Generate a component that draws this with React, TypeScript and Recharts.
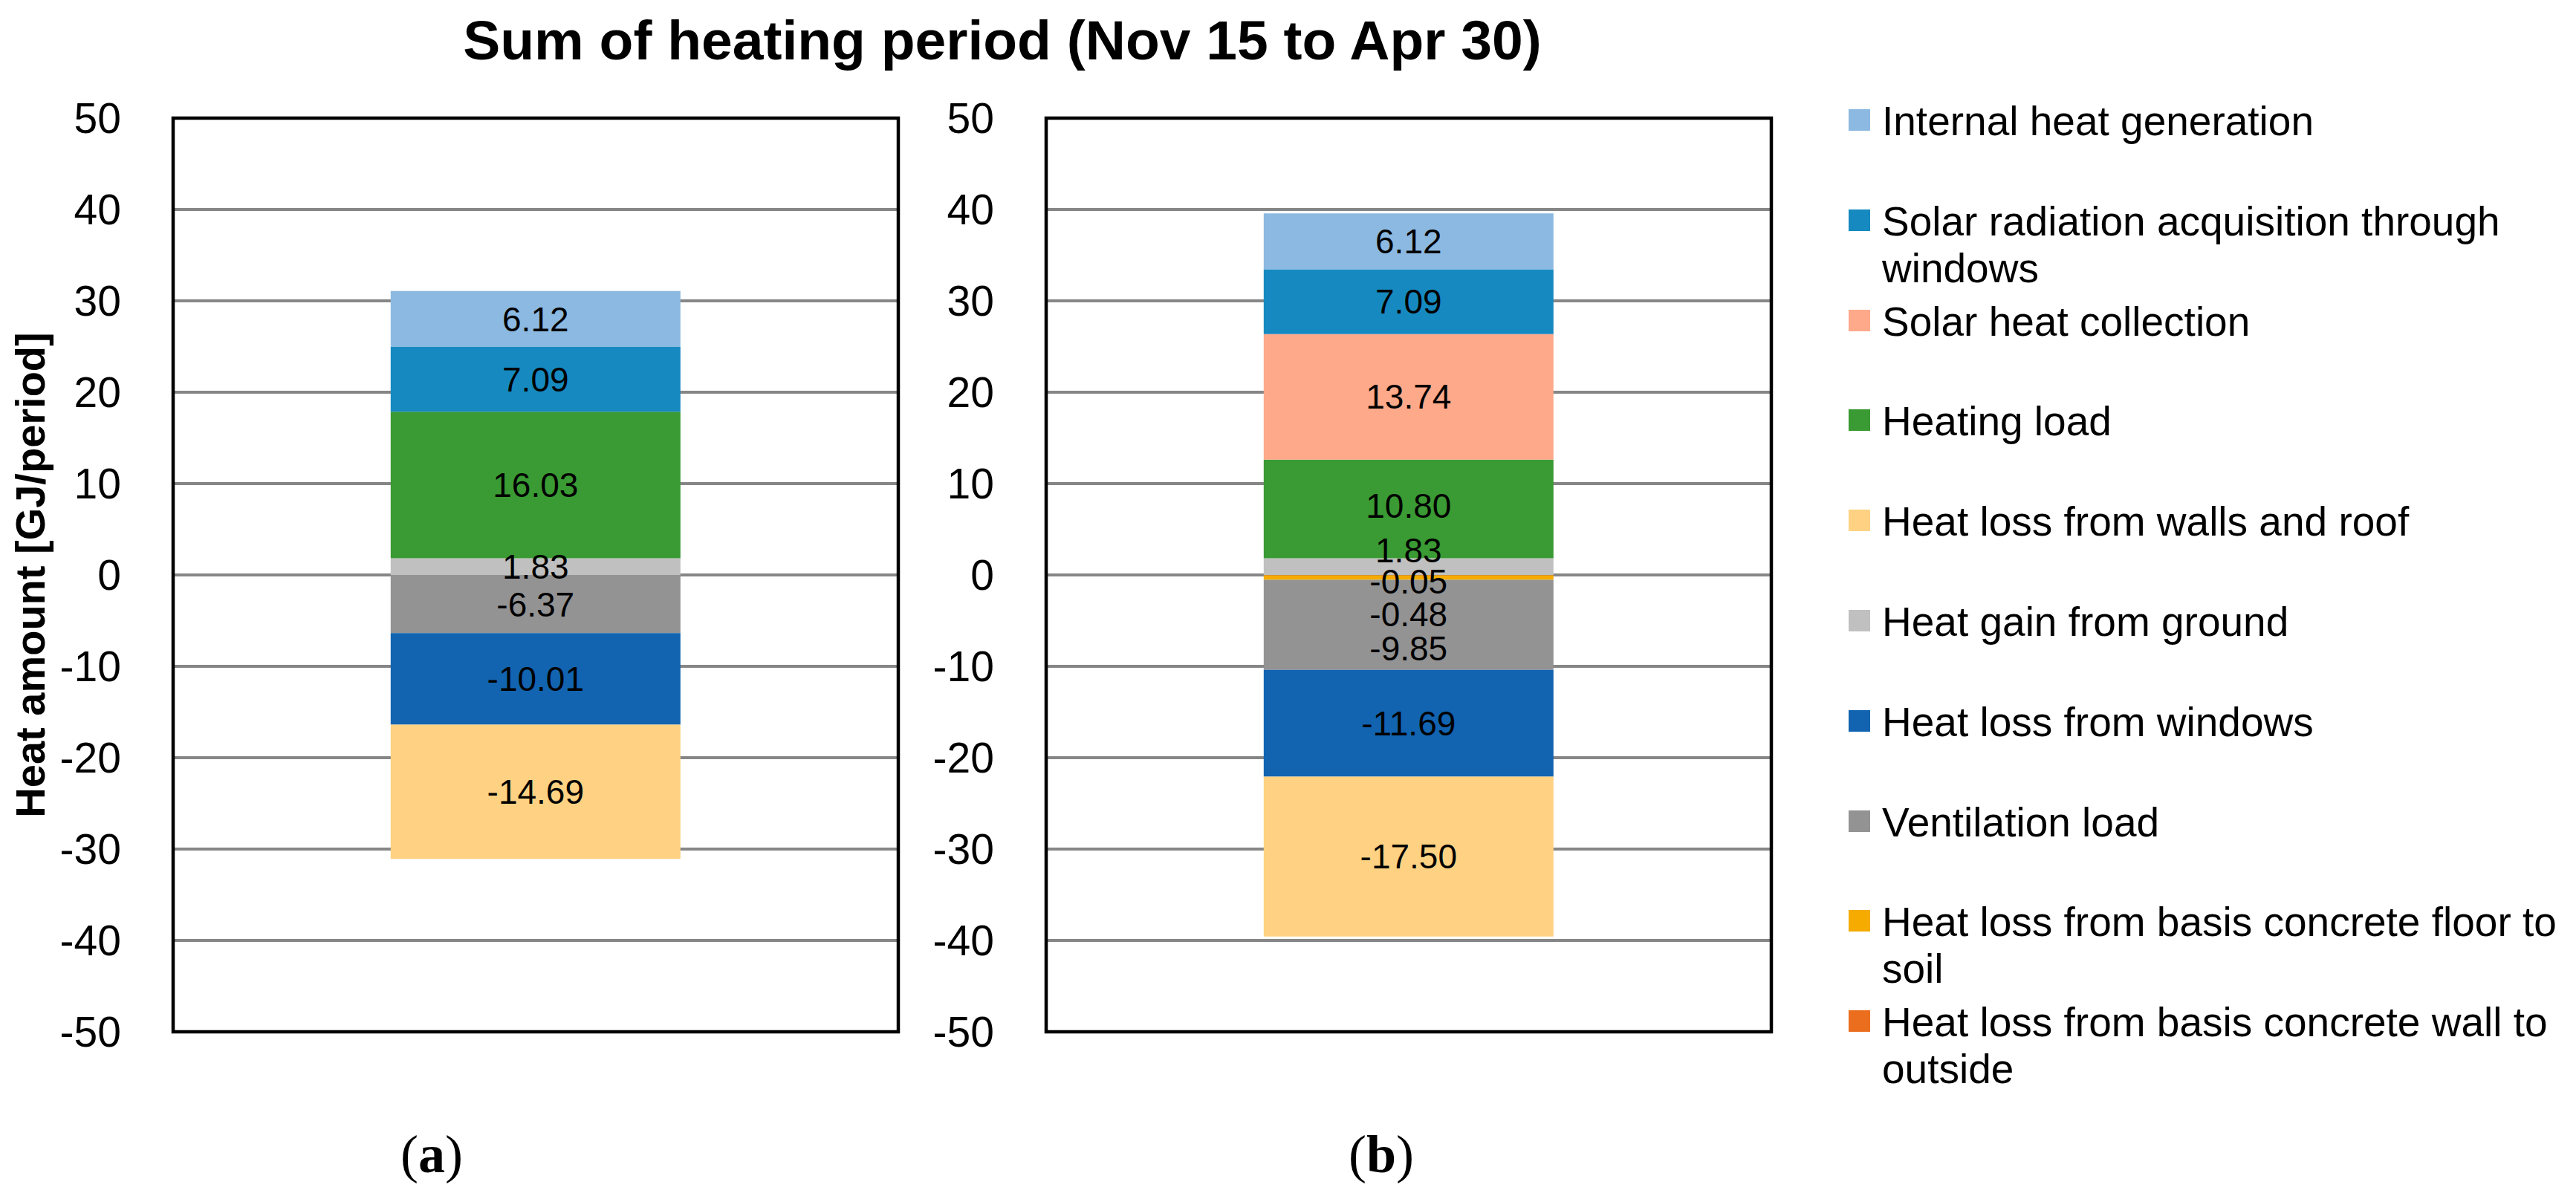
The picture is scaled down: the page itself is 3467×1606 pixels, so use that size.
import React from "react";
import {
	BarChart,
	Bar,
	XAxis,
	YAxis,
	CartesianGrid,
	ReferenceArea,
	LabelList,
	Label,
} from "recharts";

// series in stacking order (first = closest to zero)
const seriesKeys = [
	"wallOutside",
	"floorSoil",
	"ventilation",
	"windows",
	"ground",
	"walls",
	"heating",
	"solarColl",
	"solarRad",
	"internal",
];
const seriesNames = [
	"Heat loss from basis concrete wall to outside",
	"Heat loss from basis concrete floor to soil",
	"Ventilation load",
	"Heat loss from windows",
	"Heat gain from ground",
	"Heat loss from walls and roof",
	"Heating load",
	"Solar heat collection",
	"Solar radiation acquisition through windows",
	"Internal heat generation",
];
const seriesColors = [
	"#EB6E1E",
	"#F5AB00",
	"#939393",
	"#1264B0",
	"#C0C0C0",
	"#FED282",
	"#3A9A33",
	"#FDA98A",
	"#168AC0",
	"#8CB9E1",
];

const caseA = [0, 0, -6.37, -10.01, 1.83, -14.69, 16.03, 0, 7.09, 6.12];
const caseB = [-0.05, -0.48, -9.85, -11.69, 1.83, -17.5, 10.8, 13.74, 7.09, 6.12];

const yTicks = [50, 40, 30, 20, 10, 0, -10, -20, -30, -40, -50];
const panelNames = ["a", "b"];

const TITLE = "Sum of heating period (Nov 15 to Apr 30)";
const Y_TITLE = "Heat amount [GJ/period]";
const FONT = "'Liberation Sans', Arial, sans-serif";

// hand-placed label shifts for the crowded labels in (b)
const nudgeA: Record<string, number> = {};
const nudgeB: Record<string, number> = {
	ground: -22,
	wallOutside: 8,
	floorSoil: 49,
	ventilation: 32,
	heating: -4,
};

const toRow = (name: string, vals: number[]) => {
	const row: Record<string, any> = { name };
	seriesKeys.forEach((k, i) => {
		row[k] = vals[i];
	});
	return row;
};

const W = 1230;
const H = 1450;
const AXIS_W = 233;
const margin = { top: 159, right: 21, bottom: 61, left: 0 };

const YTitle = (props: any) => {
	const vb = props.viewBox || { x: 0, y: margin.top, width: AXIS_W, height: H - margin.top - margin.bottom };
	const cx = vb.x + 40;
	const cy = vb.y + vb.height / 2;
	return (
		<text
			x={cx}
			y={cy}
			transform={`rotate(-90 ${cx} ${cy})`}
			textAnchor="middle"
			dy="0.35em"
			fontFamily={FONT}
			fontWeight="bold"
			fontSize={56}
			fill="#000"
		>
			{Y_TITLE}
		</text>
	);
};

const makeLabel = (row: Record<string, any>, key: string, nudge: Record<string, number>) => (props: any) => {
	const v = row[key];
	if (!v) return null;
	const cx = Number(props.x) + Number(props.width) / 2;
	const cy = Number(props.y) + Number(props.height) / 2 + (nudge[key] || 0);
	return (
		<text x={cx} y={cy} dy="0.355em" textAnchor="middle" fontFamily={FONT} fontSize={46} fill="#000">
			{v.toFixed(2)}
		</text>
	);
};

const Panel: React.FC<{ vals: number[]; name: string; left: number; yTitle: boolean; nudge: Record<string, number> }> = ({
	vals,
	name,
	left,
	yTitle,
	nudge,
}) => {
	const row = toRow(name, vals);
	return (
		<>
			<div style={{ position: "absolute", left, top: 0 }}>
				<BarChart width={W} height={H} data={[row]} margin={margin} stackOffset="sign" barCategoryGap="30%">
					<CartesianGrid vertical={false} stroke="#868686" strokeWidth={3.8} />
					<XAxis dataKey="name" hide />
					<YAxis
						domain={[-50, 50]}
						ticks={yTicks}
						interval={0}
						width={AXIS_W}
						axisLine={false}
						tickLine={false}
						tickSize={0}
						tickMargin={70}
						tick={{ fill: "#000", fontSize: 57, fontFamily: FONT }}
					>
						{yTitle && <Label content={YTitle} />}
					</YAxis>
					{seriesKeys.map((k, i) => (
						<Bar key={k} dataKey={k} stackId="s" fill={seriesColors[i]} isAnimationActive={false} />
					))}
					<ReferenceArea y1={-50} y2={50} fill="none" stroke="#000" strokeWidth={4.5} ifOverflow="visible" />
				</BarChart>
			</div>
			{/* second pass just for the labels so no segment covers them */}
			<div style={{ position: "absolute", left, top: 0 }}>
				<BarChart
					width={W}
					height={H}
					data={[row]}
					margin={{ ...margin, left: AXIS_W }}
					stackOffset="sign"
					barCategoryGap="30%"
				>
					<XAxis dataKey="name" hide />
					<YAxis domain={[-50, 50]} ticks={yTicks} hide />
					{seriesKeys.map((k) => (
						<Bar key={k} dataKey={k} stackId="s" fill="none" isAnimationActive={false}>
							<LabelList content={makeLabel(row, k, nudge)} />
						</Bar>
					))}
				</BarChart>
			</div>
		</>
	);
};

const Legend: React.FC = () => {
	const order = seriesKeys.map((_, i) => seriesKeys.length - 1 - i);
	return (
		<>
			{order.map((idx, i) => {
				const c = 163 + i * 134.8;
				return (
					<React.Fragment key={seriesKeys[idx]}>
						<div
							style={{
								position: "absolute",
								left: 2488,
								top: c - 16,
								width: 29,
								height: 29,
								background: seriesColors[idx],
							}}
						/>
						<div
							style={{
								position: "absolute",
								left: 2533,
								top: c - 31,
								width: 925,
								fontFamily: FONT,
								fontSize: 55,
								lineHeight: "63px",
								color: "#000",
							}}
						>
							{seriesNames[idx]}
						</div>
					</React.Fragment>
				);
			})}
		</>
	);
};

const App: React.FC = () => {
	return (
		<div style={{ position: "relative", width: 3467, height: 1606, background: "#fff", overflow: "hidden" }}>
			<style>{"body{margin:0}"}</style>
			<Panel vals={caseA} name={panelNames[0]} left={0} yTitle nudge={nudgeA} />
			<Panel vals={caseB} name={panelNames[1]} left={1175} yTitle={false} nudge={nudgeB} />
			<svg width={3467} height={1606} style={{ position: "absolute", left: 0, top: 0, pointerEvents: "none" }}>
				<text x={1349} y={80} textAnchor="middle" fontFamily={FONT} fontWeight="bold" fontSize={75} fill="#000">
					{TITLE}
				</text>
				{panelNames.map((p, i) => (
					<text
						key={p}
						x={i === 0 ? 581 : 1859}
						y={1578}
						textAnchor="middle"
						fontFamily="'Liberation Serif', 'Times New Roman', serif"
						fontSize={72}
						fill="#000"
					>
						(<tspan fontWeight="bold">{p}</tspan>)
					</text>
				))}
			</svg>
			<Legend />
		</div>
	);
};

export default App;
